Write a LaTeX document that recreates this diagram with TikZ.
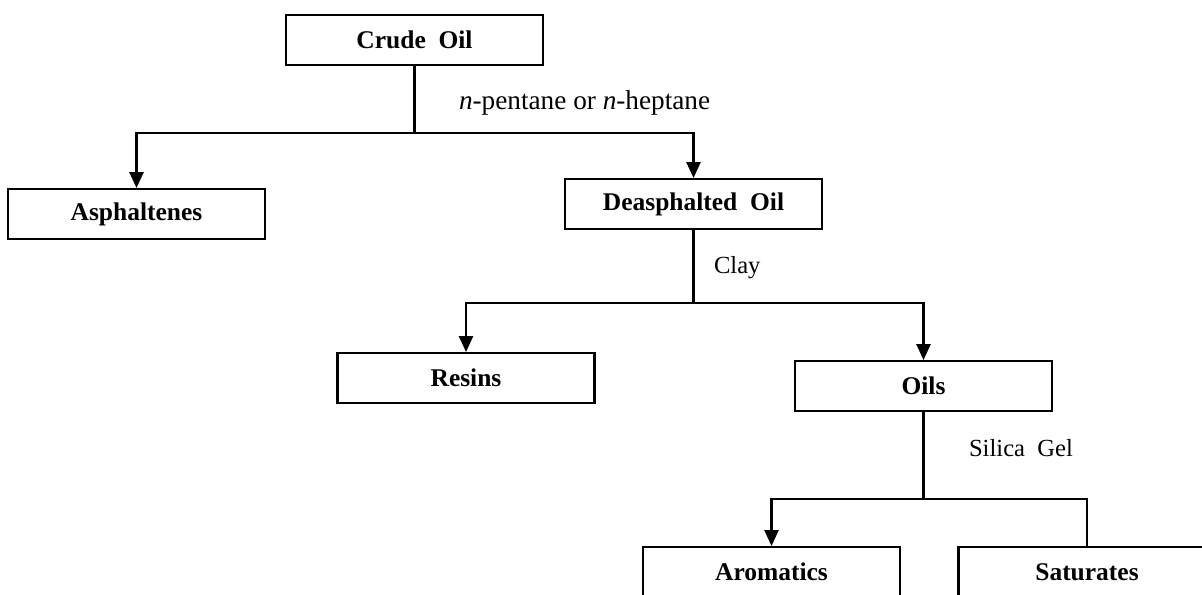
\documentclass[tikz,border=0pt]{standalone}
\usepackage{fontspec}
\setmainfont{Liberation Serif}
\usetikzlibrary{arrows.meta}
\tikzset{box/.style={draw,rectangle,minimum width=5.14cm,minimum height=1cm,inner sep=0pt,font=\fontsize{14.5}{17}\selectfont\bfseries}, lbl/.style={anchor=west,inner sep=0pt,font=\fontsize{14}{17}\selectfont}, arr/.style={-{Triangle[width=8pt,length=9pt]}}}

\begin{document}
\begin{tikzpicture}[line width=1.2pt]
   \clip (0,0) rectangle (24.04,-11.88);

   \node[box] (crude)  at ( 8.29, -0.80) {Crude\ \ Oil};
   \node[box] (asph)   at ( 2.73, -4.28) {Asphaltenes};
   \node[box] (deasph) at (13.87, -4.08) {Deasphalted\ \ Oil};
   \node[box] (resins) at ( 9.32, -7.56) {Resins};
   \node[box] (oils)   at (18.47, -7.72) {Oils};
   \node[box] (arom)   at (15.43,-11.44) {Aromatics};
   \node[box] (sat)    at (21.74,-11.44) {Saturates};

   \coordinate (b1) at ( 8.29,-2.66);
   \coordinate (b2) at (13.87,-6.06);
   \coordinate (b3) at (18.47,-9.98);

   \draw (crude) -- (b1);
   \draw[arr] (b1) -| (asph);
   \draw[arr] (b1) -| (deasph);
   \draw (deasph) -- (b2);
   \draw[arr] (b2) -| (resins);
   \draw[arr] (b2) -| (oils);
   \draw (oils) -- (b3);
   \draw[arr] (b3) -| (arom);
   \draw (b3) -| (sat);

   \node[lbl,font=\fontsize{15.5}{18}\selectfont] (l1) at ( 9.16,-2.06) {\textit{n}-pentane or \textit{n}-heptane};
   \node[lbl] (l2) at (14.26,-5.36) {Clay};
   \node[lbl] (l3) at (19.36,-8.96) {Silica\ \ Gel};
\end{tikzpicture}
\end{document}
